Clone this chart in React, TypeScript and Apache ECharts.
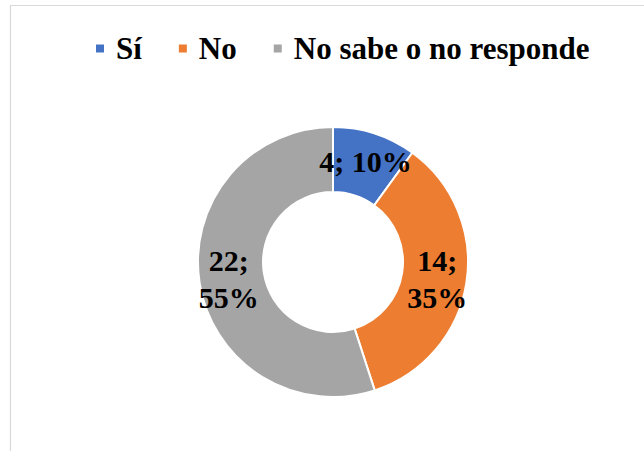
import React, { useEffect, useRef } from "react";
import * as echarts from "echarts";

const categories = ["Sí", "No", "No sabe o no responde"];
const values = [4, 14, 22];
const colors = ["#4472C4", "#ED7D31", "#A5A5A5"];

const FONT = "Liberation Serif";

export default function App() {
  const ref = useRef<HTMLDivElement>(null);
  useEffect(() => {
    const chart = echarts.init(ref.current!, null, { renderer: "svg" });
    chart.setOption({
      animation: false,
      backgroundColor: "#ffffff",
      color: colors,
      graphic: [
        {
          type: "rect",
          shape: { x: 10.5, y: 5.5, width: 700, height: 500 },
          style: { fill: "none", stroke: "#d9d9d9", lineWidth: 1.2 },
          silent: true,
        },
      ],
      legend: {
        left: 89,
        top: 28,
        icon: "rect",
        itemWidth: 10,
        itemHeight: 10,
        itemGap: 35,
        data: categories,
        textStyle: {
          fontFamily: FONT,
          fontWeight: "bold",
          fontSize: 31,
          color: "#000",
          padding: [0, 0, 0, 6],
        },
      },
      series: [
        {
          type: "pie",
          center: [333, 262],
          radius: [70, 135],
          startAngle: 90,
          clockwise: true,
          avoidLabelOverlap: false,
          itemStyle: { borderColor: "#ffffff", borderWidth: 2 },
          label: {
            show: true,
            position: "inside",
            color: "#000",
            fontFamily: FONT,
            fontWeight: "bold",
            fontSize: 30,
            lineHeight: 37,
            formatter: (p: any) =>
              p.dataIndex === 0
                ? `${p.value}; ${Math.round(p.percent)}%`
                : `${p.value};\n${Math.round(p.percent)}%`,
          },
          labelLine: { show: false },
          emphasis: { disabled: true },
          data: categories.map((name, i) => ({ name, value: values[i] })),
        },
      ],
    });
    return () => chart.dispose();
  }, []);
  return (
    <div
      ref={ref}
      style={{ position: "absolute", left: 0, top: 0, width: 644, height: 451 }}
    />
  );
}
